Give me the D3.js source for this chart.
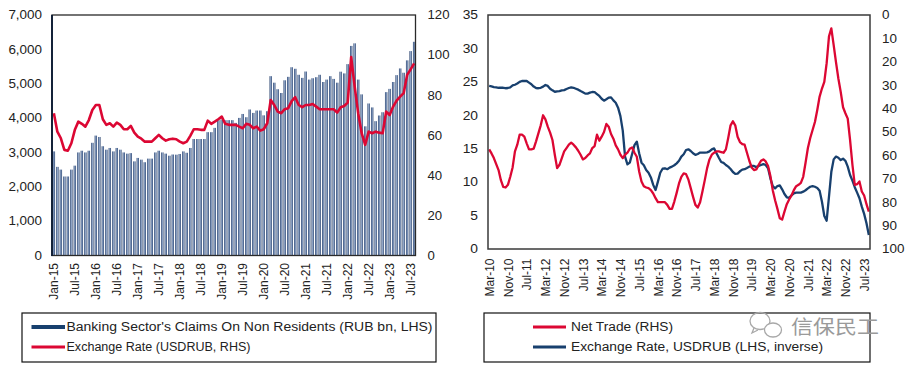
<!DOCTYPE html>
<html>
<head>
<meta charset="utf-8">
<script src="https://cdn.jsdelivr.net/npm/d3@7/dist/d3.min.js"></script>
<style>
  body { margin: 0; background: #fff; }
  text { font-family: "Liberation Sans", Arial, sans-serif; fill: #222; }
</style>
</head>
<body>
<svg id="chart" width="913" height="372"></svg>
<script>
// Left panel: monthly, Jan-15 .. Aug-23
var claims = [
  3030, 2580, 2500, 2300, 2300, 2500, 2615, 3000, 3050, 3000, 3050, 3280,
  3490, 3450, 3180, 3080, 3130, 3030, 3130, 3080, 3000, 2965, 2980, 2740,
  2840, 2790, 2715, 2820, 2820, 3000, 3050, 3000, 2965, 2905, 2940, 2935,
  2955, 3030, 2990, 3130, 3390, 3390, 3390, 3390, 3590, 3590, 3715, 3940,
  3960, 3940, 3940, 3940, 3860, 4005, 4120, 4025, 4250, 4150, 4220, 4220,
  4080, 4200, 5220, 5030, 4840, 4730, 5100, 5200, 5480, 5435, 5260, 5170,
  5355, 5120, 5160, 5190, 5260, 5050, 5120, 5220, 5140, 5030, 5350, 5300,
  5570, 6100, 6175, 5120, 4690, 3760, 4425, 4310, 3910, 4075, 4170, 4755,
  4850, 5050, 5250, 5445, 5320, 5680, 5950, 6220
];
var usdrub = [
  71, 61.8, 58.5, 52.7, 52.3, 56, 62.7, 66.8, 65.7, 64.3, 67.6, 72.6,
  75.1, 75.1, 68, 65.2, 66, 64.3, 66.3, 65.2, 63, 63, 64.7, 61.3,
  59.3, 58.3, 56.8, 56.8, 56.8, 58.5, 60.2, 58.5, 57.3, 58, 58.3, 58,
  56.8, 56, 56.8, 59.7, 63, 63, 62.7, 62.7, 67.3, 65.7, 66.8, 68,
  69.3, 65.7, 65.2, 65.2, 65.2, 64.3, 63.5, 65.7, 65.2, 63.5, 64.3, 62.3,
  63, 66, 77.6, 75.1, 71.8, 71, 73, 73.5, 77, 79, 75.1, 74,
  75.1, 75.1, 75.6, 74.3, 73, 73, 73, 73, 73, 71.3, 74, 74.6,
  76.3, 99, 84.3, 71, 61, 55.2, 61.8, 61, 61.8, 61.3, 61, 71.8,
  70.1, 74.3, 77.3, 79.3, 81, 90.1, 92.9, 95.9
];

// Right panel: monthly, Mar-10 .. Sep-23
var netTrade = [
  14.9, 14.3, 13.6, 12.7, 11.8, 10.3, 9.3, 9.2, 9.6, 10.8,
  12.2, 14.6, 15.6, 17.1, 17.1, 16.8, 15.8, 14.9, 14.9, 15.0, 16.1, 17.3,
  18.5, 20.0, 19.4, 18.3, 17.4, 16.3, 14.1, 12.1, 12.6, 13.6, 14.6, 15.1,
  15.6, 15.9, 15.6, 15.2, 14.7, 14.1, 13.4, 13.6, 14.0, 14.3, 15.1, 15.4,
  17.1, 16.2, 16.8, 17.5, 18.7, 18.3, 17.2, 16.5, 15.5, 14.9, 14.1, 13.6,
  14.1, 14.4, 15.0, 15.2, 14.4, 13.8, 11.6, 10.1, 9.4, 9.2, 9.1, 8.8,
  8.3, 7.6, 7.0, 7.0, 7.0, 7.0, 6.6, 6.0, 6.0, 7.1, 8.4, 9.8,
  10.8, 11.3, 11.2, 10.4, 9.1, 7.8, 6.6, 6.2, 7.0, 8.6, 10.3, 12.1,
  13.4, 14.1, 14.4, 14.6, 14.6, 14.5, 14.4, 14.9, 16.6, 18.5, 19.1, 18.5,
  16.8, 16.0, 15.7, 15.6, 14.4, 13.2, 12.2, 11.8, 11.9, 12.6, 13.2, 13.4,
  13.1, 12.4, 10.9, 8.8, 7.3, 6.0, 4.6, 4.4, 5.6, 6.7, 7.4, 8.0,
  8.8, 9.4, 9.6, 9.9, 10.8, 12.9, 15.1, 16.6, 17.8, 19.0, 20.8, 22.8,
  24.0, 25.0, 27.8, 31.8, 33.0, 30.5, 27.9, 25.5, 23.5, 21.2, 20.3, 19.5,
  16.3, 12.6, 9.6, 9.7, 10.1, 8.6, 8.0, 6.7, 5.6
];
var usdrubInv = [
  30.3, 30.5, 30.8, 30.9, 31.1, 31.1, 31.1, 31.3, 31.2, 30.9,
  30.1, 29.8, 29.3, 28.6, 28.2, 28.2, 28.2, 28.9, 29.6, 30.6, 31.2, 31.3,
  31.1, 30.6, 29.9, 30.3, 31.5, 32.2, 32.8, 32.6, 32.5, 32.2, 32.1, 31.6,
  31.2, 30.9, 31.1, 31.5, 31.9, 32.5, 33.0, 33.6, 33.6, 33.2, 32.9, 33.0,
  33.8, 34.6, 35.8, 36.6, 36.0, 35.3, 35.2, 36.5, 37.5, 39.6, 43.2, 49.4,
  60.6, 63.8, 63.1, 59.4, 55.6, 54.1, 59.1, 63.1, 64.2, 66.2, 67.4, 69.4,
  72.6, 74.8, 71.2, 67.4, 65.7, 65.5, 65.9, 65.2, 64.8, 64.2, 63.4, 62.3,
  60.5, 59.5, 57.7, 57.4, 58.1, 59.1, 59.8, 59.4, 58.8, 58.8, 58.8, 58.7,
  58.3, 57.4, 57.0, 59.1, 61.0, 62.8, 63.2, 64.1, 64.8, 65.8, 67.1, 67.9,
  67.8, 66.8, 66.1, 65.9, 65.4, 64.8, 64.5, 64.5, 65.0, 64.5, 64.1, 63.7,
  64.1, 65.5, 69.8, 73.1, 74.1, 73.1, 72.8, 74.5, 76.5, 77.9, 78.1, 77.1,
  76.2, 75.9, 75.9, 75.9, 75.5, 74.9, 74.1, 73.4, 73.1, 73.4, 73.9, 75.1,
  79.8, 85.9, 87.9, 77.6, 67.0, 61.7, 60.5, 61.0, 62.0, 61.4, 62.3, 64.8,
  68.4, 70.8, 73.6, 75.9, 78.3, 81.9, 85.0, 89.0, 94.0
];

var leftTicks = [0, 1000, 2000, 3000, 4000, 5000, 6000, 7000];
var rightTicks1 = [0, 20, 40, 60, 80, 100, 120];
var leftTicks2 = [0, 5, 10, 15, 20, 25, 30, 35];
var rightTicks2 = [0, 10, 20, 30, 40, 50, 60, 70, 80, 90, 100];

var months1 = d3.timeMonth.range(new Date(2015, 0, 1), new Date(2023, 8, 1));
var months2 = d3.timeMonth.range(new Date(2010, 2, 1), new Date(2023, 9, 1));
var fmt = d3.timeFormat("%b-%y");

var RED = "#dc0733", NAVY = "#18406e";

var svg = d3.select("#chart");

var defs = svg.append("defs");
var grad = defs.append("linearGradient").attr("id", "barGrad")
  .attr("x1", 0).attr("x2", 1).attr("y1", 0).attr("y2", 0);
grad.append("stop").attr("offset", "0%").attr("stop-color", "#1a3563");
grad.append("stop").attr("offset", "50%").attr("stop-color", "#9fb4d4");
grad.append("stop").attr("offset", "100%").attr("stop-color", "#1a3563");

// widen horizontal text a little, the source image is stretched sideways
function stretch(sel, k) {
  sel.each(function() {
    var w = this.getComputedTextLength();
    d3.select(this).attr("textLength", w * k).attr("lengthAdjust", "spacingAndGlyphs");
  });
}

function styleAxis(g) {
  g.select(".domain").remove();
  g.selectAll("text").style("font-size", "12px").attr("fill", "#222")
    .style("font-family", "'Liberation Sans', Arial, sans-serif");
}

// ---------- left panel ----------
var x1 = d3.scaleBand().domain(months1).range([52.5, 415.5]).paddingInner(0.32).paddingOuter(0.05);
var y1 = d3.scaleLinear().domain([0, 7000]).range([255.5, 15]);
var y1r = d3.scaleLinear().domain([0, 120]).range([255.5, 15]);

svg.append("g").selectAll("rect")
  .data(claims)
  .enter().append("rect")
  .attr("x", function(d, i) { return x1(months1[i]); })
  .attr("width", x1.bandwidth())
  .attr("y", function(d) { return y1(d); })
  .attr("height", function(d) { return y1(0) - y1(d); })
  .attr("fill", "url(#barGrad)");

var line1 = d3.line()
  .x(function(d, i) { return x1(months1[i]) + x1.bandwidth() / 2; })
  .y(function(d) { return y1r(d); });

svg.append("path").datum(usdrub)
  .attr("d", line1)
  .attr("fill", "none").attr("stroke", RED).attr("stroke-width", 2.6)
  .attr("stroke-linejoin", "round");

svg.append("rect").attr("x", 52).attr("y", 15).attr("width", 363.5).attr("height", 240.5)
  .attr("fill", "none").attr("stroke", "#2a2a2a").attr("stroke-width", 1.3);
svg.append("line").attr("x1", 52).attr("x2", 52).attr("y1", 15).attr("y2", 256)
  .attr("stroke", "#0a1a33").attr("stroke-width", 1.8);

var ax1 = svg.append("g").attr("transform", "translate(52,0)")
  .call(d3.axisLeft(y1).tickValues(leftTicks).tickSize(0).tickPadding(10).tickFormat(d3.format(",")));
styleAxis(ax1);
stretch(ax1.selectAll("text"), 1.12);

var ax1r = svg.append("g").attr("transform", "translate(415.5,0)")
  .call(d3.axisRight(y1r).tickValues(rightTicks1).tickSize(0).tickPadding(12));
styleAxis(ax1r);
stretch(ax1r.selectAll("text"), 1.1);

var ax1b = svg.append("g").attr("transform", "translate(0,255.5)")
  .call(d3.axisBottom(x1).tickValues(months1.filter(function(d, i) { return i % 6 === 0; }))
    .tickSize(0).tickFormat(fmt));
styleAxis(ax1b);
ax1b.selectAll("text").attr("transform", "rotate(-90)")
  .attr("x", -7.5).attr("y", 0).attr("dy", "0.36em").style("text-anchor", "end");

// ---------- right panel ----------
var x2 = d3.scalePoint().domain(months2).range([488, 870]).padding(0.5);
var y2 = d3.scaleLinear().domain([0, 35]).range([249, 15]);
var y2r = d3.scaleLinear().domain([0, 100]).range([15, 249]);

svg.append("path").datum(usdrubInv)
  .attr("d", d3.line().x(function(d, i) { return x2(months2[i]); }).y(function(d) { return y2r(d); }))
  .attr("fill", "none").attr("stroke", NAVY).attr("stroke-width", 2.3)
  .attr("stroke-linejoin", "round");

svg.append("path").datum(netTrade)
  .attr("d", d3.line().x(function(d, i) { return x2(months2[i]); }).y(function(d) { return y2(d); }))
  .attr("fill", "none").attr("stroke", RED).attr("stroke-width", 2.3)
  .attr("stroke-linejoin", "round");

svg.append("rect").attr("x", 488).attr("y", 15).attr("width", 382).attr("height", 234)
  .attr("fill", "none").attr("stroke", "#3a3a3a").attr("stroke-width", 1.5);

var ax2 = svg.append("g").attr("transform", "translate(488,0)")
  .call(d3.axisLeft(y2).tickValues(leftTicks2).tickSize(0).tickPadding(10));
styleAxis(ax2);
stretch(ax2.selectAll("text"), 1.15);

var ax2r = svg.append("g").attr("transform", "translate(870,0)")
  .call(d3.axisRight(y2r).tickValues(rightTicks2).tickSize(0).tickPadding(12));
styleAxis(ax2r);
stretch(ax2r.selectAll("text"), 1.12);

var ax2b = svg.append("g").attr("transform", "translate(0,249)")
  .call(d3.axisBottom(x2).tickValues(months2.filter(function(d, i) { return i % 8 === 0; }))
    .tickSize(0).tickFormat(fmt));
styleAxis(ax2b);
ax2b.selectAll("text").attr("transform", "rotate(-90)")
  .attr("x", -9.5).attr("y", 0).attr("dy", "0.36em").style("text-anchor", "end");

// ---------- legends ----------
function legend(x0, w, items, lx1, lx2, tx) {
  var g = svg.append("g");
  g.append("rect").attr("x", x0).attr("y", 313).attr("width", w).attr("height", 49)
    .attr("fill", "#fff").attr("stroke", "#111").attr("stroke-width", 1.2);
  items.forEach(function(it, k) {
    var yy = 327 + k * 20;
    g.append("line").attr("x1", lx1).attr("x2", lx2).attr("y1", yy).attr("y2", yy)
      .attr("stroke", it.color).attr("stroke-width", it.sw);
    g.append("text").attr("x", tx).attr("y", yy + 4.3).text(it.label)
      .style("font-size", "12.5px")
      .attr("textLength", it.len).attr("lengthAdjust", "spacingAndGlyphs");
  });
}
legend(22, 414, [
  { label: "Banking Sector's Claims On Non Residents (RUB bn, LHS)", color: NAVY, sw: 4, len: 366 },
  { label: "Exchange Rate (USDRUB, RHS)", color: RED, sw: 3, len: 184 }
], 31.5, 65, 66.5);
legend(484, 386, [
  { label: "Net Trade (RHS)", color: RED, sw: 3, len: 102 },
  { label: "Exchange Rate, USDRUB (LHS, inverse)", color: NAVY, sw: 3, len: 252 }
], 533, 566, 571);

// watermark
var wm = svg.append("g").attr("fill", "none").attr("stroke", "#a8a8a8").attr("stroke-width", 1.3);
wm.append("ellipse").attr("cx", 760).attr("cy", 321).attr("rx", 10).attr("ry", 8.5);
wm.append("ellipse").attr("cx", 773).attr("cy", 330).attr("rx", 8.5).attr("ry", 7).attr("fill", "#fff");
wm.append("path").attr("d", "M754,328 l-2,5 l6,-3");
svg.append("text").attr("x", 791).attr("y", 334).text("信保民工")
  .style("font-family", "'Noto Sans CJK SC', sans-serif").style("font-size", "19px")
  .attr("fill", "#9a9a9a").style("fill", "#9a9a9a")
  .attr("textLength", 88).attr("lengthAdjust", "spacingAndGlyphs");
</script>
</body>
</html>
